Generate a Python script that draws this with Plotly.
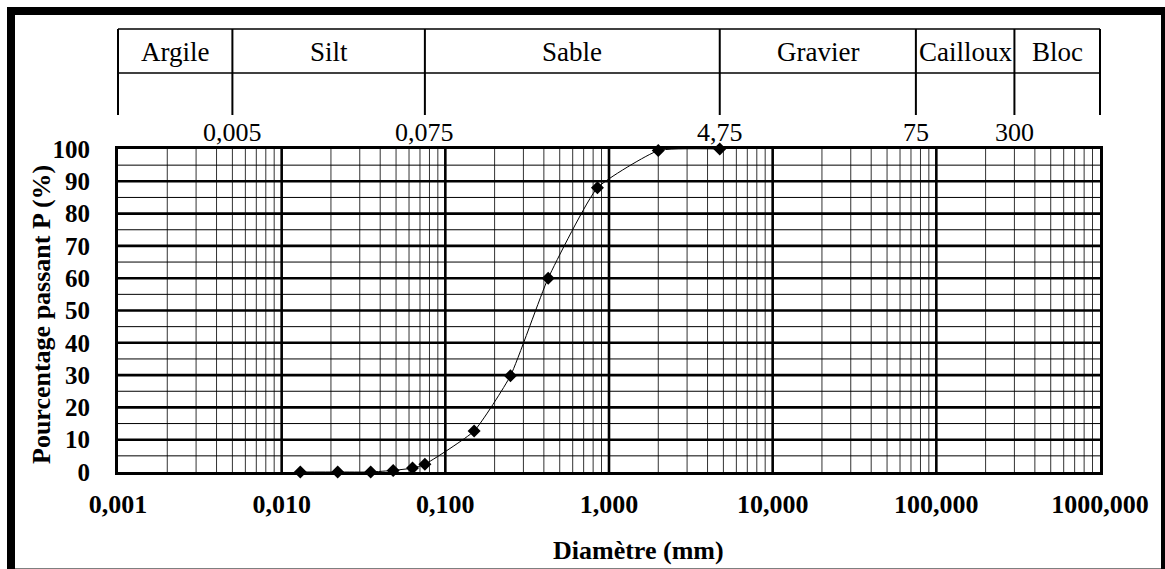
import numpy as np
import plotly.graph_objects as go

# Courbe granulométrique : diamètre des tamis (mm) et pourcentage passant (%)
diametre_mm = [0.013, 0.022, 0.035, 0.048, 0.063, 0.075, 0.15, 0.25, 0.425, 0.85, 2.0, 4.75]
passant_pct = [0.0, 0.0, 0.0, 0.5, 1.2, 2.4, 12.7, 29.8, 60.0, 88.0, 99.5, 100.0]

# Classes granulométriques et leurs limites (mm)
classes = ["Argile", "Silt", "Sable", "Gravier", "Cailloux", "Bloc"]
limites_mm = [0.005, 0.075, 4.75, 75, 300]
limites_txt = ["0,005", "0,075", "4,75", "75", "300"]

# Graduations des axes
x_tickvals = [0.001, 0.01, 0.1, 1, 10, 100, 1000]
x_ticktext = ["0,001", "0,010", "0,100", "1,000", "10,000", "100,000", "1000,000"]
y_tickvals = list(range(0, 101, 10))

W, H = 1165, 569
L, R, T, B = 118, 1100, 149, 472
XMIN, XMAX = 0.001, 1000
FONT = "Liberation Serif"


def fx(px):
    return (px - L) / (R - L)


def fy(py):
    return (B - py) / (B - T)


def lx(d):
    lo, hi = np.log10(XMIN), np.log10(XMAX)
    return (np.log10(d) - lo) / (hi - lo)


def grid_trace(xs, ys, width, color):
    return go.Scatter(x=xs, y=ys, mode="lines", hoverinfo="skip", showlegend=False,
                      line=dict(color=color, width=width))


fig = go.Figure()

# Quadrillage logarithmique (lignes secondaires)
decades = [10.0 ** e for e in range(-3, 3)]
minor_v = [k * d for d in decades for k in range(2, 10)]
xs, ys = [], []
for v in minor_v:
    xs += [v, v, None]
    ys += [0, 100, None]
fig.add_trace(grid_trace(xs, ys, 1, "#333333"))

xs, ys = [], []
for v in range(5, 100, 10):
    xs += [XMIN, XMAX, None]
    ys += [v, v, None]
fig.add_trace(grid_trace(xs, ys, 1, "black"))

# Quadrillage principal
xs, ys = [], []
for v in x_tickvals[1:-1]:
    xs += [v, v, None]
    ys += [0, 100, None]
for v in y_tickvals[1:-1]:
    xs += [XMIN, XMAX, None]
    ys += [v, v, None]
fig.add_trace(grid_trace(xs, ys, 2.6, "black"))

# Courbe
fig.add_trace(go.Scatter(
    x=diametre_mm, y=passant_pct, mode="lines", showlegend=False,
    line=dict(color="black", width=1, shape="spline", smoothing=0.45),
))
fig.add_trace(go.Scatter(
    x=diametre_mm, y=passant_pct, mode="markers", showlegend=False, cliponaxis=False,
    marker=dict(symbol="diamond", size=10, color="black"),
))

shapes = []
annotations = []

# Cadre extérieur
shapes.append(dict(type="rect", xref="paper", yref="paper",
                   x0=fx(11), x1=fx(1165), y0=fy(572.5), y1=fy(11),
                   line=dict(color="black", width=8), layer="above"))

# Tableau des classes granulométriques
y_top, y_mid, y_low = fy(29), fy(73), fy(115)
shapes.append(dict(type="line", xref="paper", yref="paper", x0=0, x1=1,
                   y0=y_top, y1=y_top, line=dict(color="black", width=1.5)))
shapes.append(dict(type="line", xref="paper", yref="paper", x0=0, x1=1,
                   y0=y_mid, y1=y_mid, line=dict(color="black", width=1.5)))
bounds = [XMIN] + limites_mm + [XMAX]
for b in bounds:
    xb = lx(b)
    shapes.append(dict(type="line", xref="paper", yref="paper", x0=xb, x1=xb,
                       y0=y_low, y1=y_top, line=dict(color="black", width=2)))

for i, name in enumerate(classes):
    xc = (lx(bounds[i]) + lx(bounds[i + 1])) / 2
    annotations.append(dict(text=name, xref="paper", yref="paper", x=xc, y=fy(52),
                            showarrow=False, xanchor="center", yanchor="middle",
                            font=dict(family=FONT, size=27, color="black")))

for b, txt in zip(limites_mm, limites_txt):
    annotations.append(dict(text=txt, xref="paper", yref="paper", x=lx(b), y=fy(132),
                            showarrow=False, xanchor="center", yanchor="middle",
                            font=dict(family=FONT, size=26, color="black")))

# Titres des axes
annotations.append(dict(text="<b>Diamètre (mm)</b>", xref="paper", yref="paper",
                        x=fx(638), y=fy(550), showarrow=False,
                        xanchor="center", yanchor="middle",
                        font=dict(family=FONT, size=26, color="black")))
annotations.append(dict(text="<b>Pourcentage passant P (%)</b>", xref="paper", yref="paper",
                        x=fx(41), y=fy(315), showarrow=False, textangle=-90,
                        xanchor="center", yanchor="middle",
                        font=dict(family=FONT, size=26, color="black")))

fig.update_layout(
    width=W, height=H,
    margin=dict(l=L, r=W - R, t=T, b=H - B, pad=0),
    paper_bgcolor="white", plot_bgcolor="white",
    shapes=shapes, annotations=annotations,
    xaxis=dict(type="log", range=[np.log10(XMIN), np.log10(XMAX)],
               showgrid=False, zeroline=False, showline=True, mirror=True,
               linecolor="black", linewidth=3, ticks="",
               tickvals=x_tickvals, ticktext=x_ticktext, ticklabelstandoff=7,
               tickfont=dict(family=FONT, size=26, color="black", weight="bold")),
    yaxis=dict(range=[0, 100], showgrid=False, zeroline=False, showline=True, mirror=True,
               linecolor="black", linewidth=3, ticks="",
               tickvals=y_tickvals, ticklabelstandoff=20,
               tickfont=dict(family=FONT, size=25, color="black", weight="bold")),
)

fig.write_html("out.html")
